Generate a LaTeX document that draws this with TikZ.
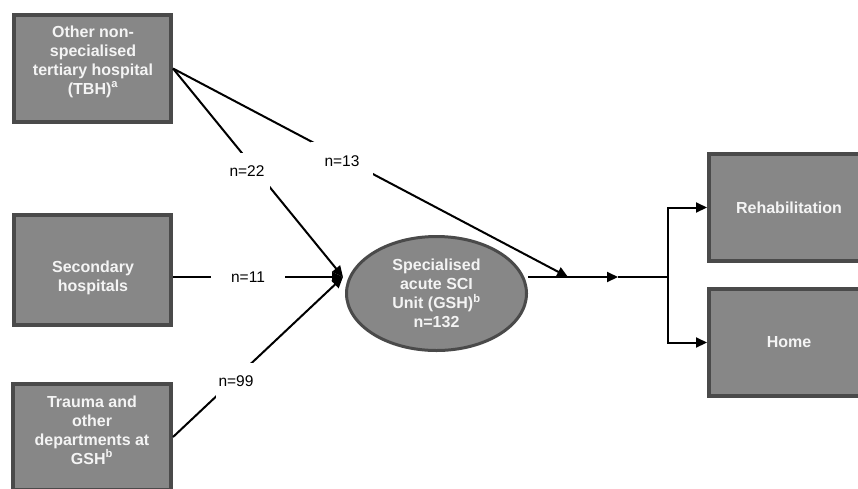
\documentclass[tikz,border=0pt]{standalone}
\usepackage{fontspec}
\setmainfont{Liberation Sans}
\usepackage{tikz}
\usetikzlibrary{shapes,arrows.meta,positioning,calc}

\definecolor{unitfill}{HTML}{878787}
\definecolor{unitline}{HTML}{4A4A4A}
\definecolor{boxwhite}{HTML}{F4F4F4}

\begin{document}
\begin{tikzpicture}[x=1pt,y=-1pt,
    unit/.style={draw=unitline,fill=unitfill,line width=4pt,inner sep=0pt},
    unittext/.style={text=boxwhite,align=center,font=\fontsize{16}{19}\selectfont\bfseries},
    flow/.style={line width=2pt,-{Triangle[length=11pt,width=10pt]}},
    count/.style={fill=white,inner sep=0pt,font=\fontsize{15.5}{19}\selectfont}]
            \useasboundingbox (0,0) rectangle (858,488);
            \clip (0,0) rectangle (858,488);
            % referring units
            \node[unit,minimum width=157,minimum height=107] (tbh) at (92.5,68.5) {};
            \node[unit,minimum width=157,minimum height=110] (sec) at (92.5,270) {};
            \node[unit,minimum width=158,minimum height=106] (trauma) at (92,437) {};
            \node[unittext] (tbh-text) at (93,61.5) {Other non-\\specialised\\tertiary hospital\\(TBH)\textsuperscript{a}};
            \node[unittext] (sec-text) at (93,278) {Secondary\\hospitals};
            \node[unittext] (trauma-text) at (92,430) {Trauma and\\other\\departments at\\GSH\textsuperscript{b}};
            % acute unit and outcomes
            \node[ellipse,draw=unitline,fill=unitfill,line width=3pt,inner sep=0pt,
                  minimum width=180,minimum height=114,unittext] (gsh) at (436.5,293.5)
                  {Specialised\\acute SCI\\Unit (GSH)\textsuperscript{b}\\n=132};
            \node[unit,unittext,minimum width=160,minimum height=107] (rehab) at (789,207.5) {Rehabilitation};
            \node[unit,unittext,minimum width=160,minimum height=107] (home) at (789,342.5) {Home};
            \coordinate (gin) at (343,277);
            \coordinate (secout) at (sec.east |- gin);
            \coordinate (merge) at (568,277);
            \coordinate (mid) at (618,277);
            \coordinate (split) at (668,277);
            \foreach \src in {tbh.east, secout, trauma.east} {
                \draw[flow] (\src) -- (gin);
            }
            \draw[flow] (tbh.east) -- (merge);
            \draw[flow] (gsh.east |- gin) -- (mid);
            \draw[line width=2pt] (mid) -- (split);
            \draw[flow] (split) |- (rehab.west);
            \draw[flow] (split) |- (home.west);
            \foreach \name/\x/\y/\w/\h/\n in {n22/247/171/46/36/22, n13/342/161/62/38/13, n11/248/277/74/16/11, n99/236/381/40/36/99} {
                \node[count,minimum width=\w,minimum height=\h] (\name) at (\x,\y) {n=\n};
            }
        \end{tikzpicture}
\end{document}
